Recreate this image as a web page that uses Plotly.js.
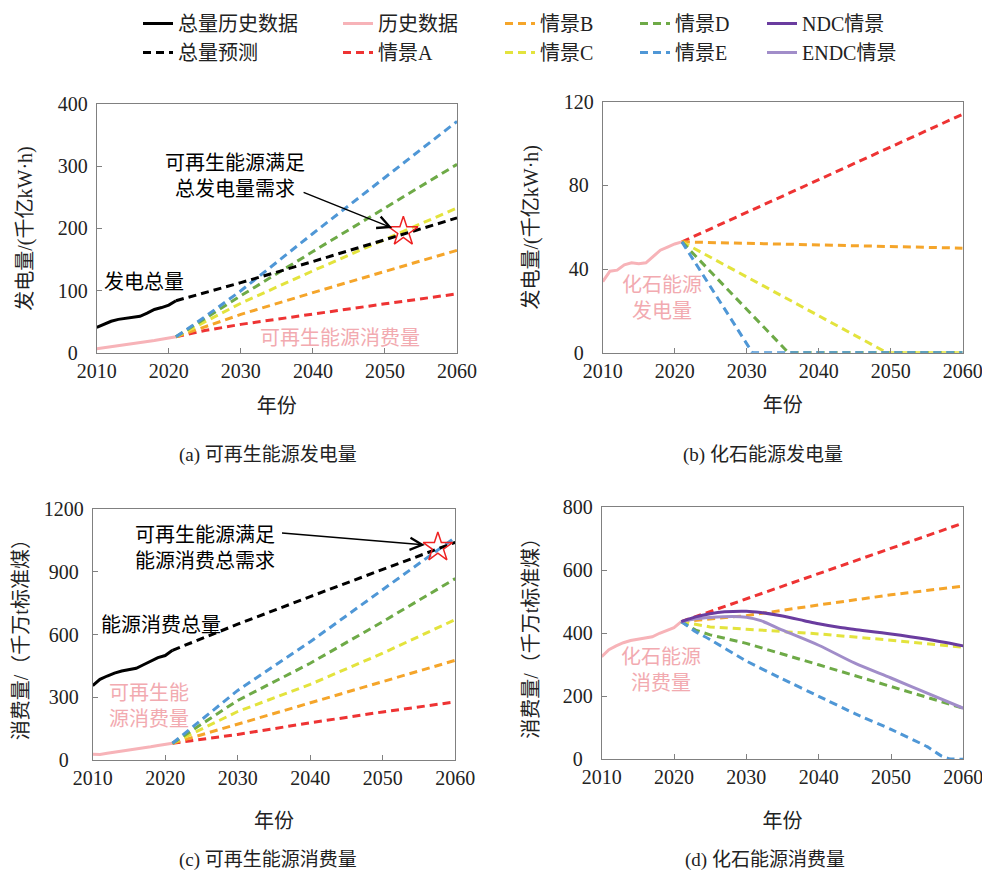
<!DOCTYPE html>
<html>
<head>
<meta charset="utf-8">
<script src="https://cdn.plot.ly/plotly-3.0.1.min.js"></script>
<style>html,body{margin:0;padding:0;background:#fff;}#chart{width:982px;height:879px;}</style>
</head>
<body>
<div id="chart"></div>
<script>
// ---------------- DATA ----------------
const histYears = [2010,2011,2012,2013,2014,2015,2016,2017,2018,2019,2020,2021];

// (a) 可再生能源发电量 (千亿kW·h)
const elecTotalHist = [41,46,51,54,56,57,59,64,70,73,77,84];
const elecTotalFcYears = [2021,2030,2040,2050,2060];
const elecTotalFc = [84,113,147,182,217];
const elecRenewHist = [7,8.5,10,11.5,13,14.5,16,18,20,22,24,26];
const elecRenewScenYears = [2021,2025,2030,2040,2050,2060];
const elecRenewA = [26,36,46,63,79,95];
const elecRenewB = [26,42,62,97,131,165];
const elecRenewC = [26,50,80,132,183,233];
const elecRenewD = [26,55,92,163,233,303];
const elecRenewE = [26,58,100,192,282,372];
const elecStar = {x:[2052.55], y:[195]};

// (b) 化石能源发电量
const elecFossilHist = [34,39,39.5,42,43,42.5,43,46,49,50.5,52,53];
const elecFossilAYears = [2021,2060];
const elecFossilA = [53,114];
const elecFossilBYears = [2021,2060];
const elecFossilB = [53,50];
const elecFossilCYears = [2021,2049.5,2060];
const elecFossilC = [53,0,0];
const elecFossilDYears = [2021,2035.8,2060];
const elecFossilD = [53,0,0];
const elecFossilEYears = [2021,2030.8,2060];
const elecFossilE = [53,0,0];

// (c) 可再生能源消费量 (千万t标准煤)
const energyTotalHist = [356,386,402,416,426,432,439,456,473,490,500,525];
const energyTotalFcYears = [2021,2030,2040,2050,2060];
const energyTotalFc = [525,650,782,912,1042];
const energyRenewHist = [28,26,32,37,42,46,50,56,63,69,74,80];
const energyRenewScenYears = [2021,2030,2040,2050,2060];
const energyRenewA = [80,122,178,230,278];
const energyRenewB = [80,172,271,375,477];
const energyRenewC = [80,232,362,511,672];
const energyRenewD = [80,285,463,662,868];
const energyRenewE = [80,333,566,814,1065];
const energyStar = {x:[2057.6], y:[1018]};

// (d) 化石能源消费量
const energyFossilHist = [326,348,360,370,377,381,383,389,400,410,418,437];
const fosAYears = [2021,2060];
const fosA = [437,750];
const fosBYears = [2021,2025,2030,2040,2050,2060];
const fosB = [437,445,456,490,522,550];
const fosCDYears = [2021,2023,2025,2030,2040,2050,2060];
const fosC = [437,428,420,413,398,378,356];
const fosD = [437,410,395,368,300,230,162];
const fosEYears = [2021,2023,2025,2030,2035,2040,2045,2050,2055,2057,2058,2060];
const fosE = [437,405,380,312,255,200,145,95,40,10,2,0];
const ndcYears = [2021,2023,2025,2027,2030,2032,2035,2038,2040,2043,2045,2050,2055,2060];
const ndc = [437,452,462,468,470,466,455,440,430,418,412,398,381,360];
const endcYears = [2021,2023,2025,2028,2030,2032,2035,2040,2045,2050,2055,2060];
const endc = [437,446,450,453,451,440,410,362,305,258,210,162];

const xTicks = [2010,2020,2030,2040,2050,2060];
const yTicksA = [0,100,200,300,400];
const yTicksB = [0,40,80,120];
const yTicksC = [0,300,600,900,1200];
const yTicksD = [0,200,400,600,800];

// ---------------- STYLE ----------------
const FONT = "'Liberation Serif', 'Noto Sans CJK SC', serif";
const TXT = '#222222';
const C = {
  black:'#000000', pink:'#f7b3b8', A:'#ee3333', B:'#f5a52a', Cc:'#e3e33d',
  D:'#6eaa47', E:'#4f97d6', NDC:'#6a3c9f', ENDC:'#a18dc9'
};
const PINKTXT = '#f2aab0';
const DASH = '8px,5px';
const LW = 3;

function line(x, y, color, dash, xa, ya, extra) {
  return Object.assign({
    type:'scatter', mode:'lines', x:x, y:y, xaxis:xa, yaxis:ya,
    line:{color:color, width:LW, dash:dash || 'solid'},
    showlegend:false, hoverinfo:'skip'
  }, extra || {});
}

const traces = [
  // (a)
  line(histYears, elecTotalHist, C.black, null, 'x','y', {name:'总量历史数据', showlegend:true, legend:'legend'}),
  line(histYears, elecRenewHist, C.pink, null, 'x','y', {name:'历史数据', showlegend:true, legend:'legend2'}),
  line(elecRenewScenYears, elecRenewA, C.A, DASH, 'x','y'),
  line(elecRenewScenYears, elecRenewB, C.B, DASH, 'x','y'),
  line(elecRenewScenYears, elecRenewC, C.Cc, DASH, 'x','y'),
  line(elecRenewScenYears, elecRenewD, C.D, DASH, 'x','y'),
  line(elecRenewScenYears, elecRenewE, C.E, DASH, 'x','y'),
  line(elecTotalFcYears, elecTotalFc, C.black, DASH, 'x','y', {name:'总量预测', showlegend:true, legend:'legend'}),
  {type:'scatter', mode:'markers', x:elecStar.x, y:elecStar.y, xaxis:'x', yaxis:'y', showlegend:false, hoverinfo:'skip',
   marker:{symbol:'star-open', size:22, color:'#ee2222', line:{width:1.5, color:'#ee2222'}}},
  // (b)
  line(histYears, elecFossilHist, C.pink, null, 'x2','y2'),
  line(elecFossilAYears, elecFossilA, C.A, DASH, 'x2','y2'),
  line(elecFossilBYears, elecFossilB, C.B, DASH, 'x2','y2'),
  line(elecFossilCYears, elecFossilC, C.Cc, DASH, 'x2','y2'),
  line(elecFossilDYears, elecFossilD, C.D, DASH, 'x2','y2'),
  line(elecFossilEYears, elecFossilE, C.E, DASH, 'x2','y2'),
  // (c)
  line(histYears, energyTotalHist, C.black, null, 'x3','y3'),
  line(histYears, energyRenewHist, C.pink, null, 'x3','y3'),
  line(energyRenewScenYears, energyRenewA, C.A, DASH, 'x3','y3'),
  line(energyRenewScenYears, energyRenewB, C.B, DASH, 'x3','y3'),
  line(energyRenewScenYears, energyRenewC, C.Cc, DASH, 'x3','y3'),
  line(energyRenewScenYears, energyRenewD, C.D, DASH, 'x3','y3'),
  line(energyRenewScenYears, energyRenewE, C.E, DASH, 'x3','y3'),
  line(energyTotalFcYears, energyTotalFc, C.black, DASH, 'x3','y3'),
  {type:'scatter', mode:'markers', x:energyStar.x, y:energyStar.y, xaxis:'x3', yaxis:'y3', showlegend:false, hoverinfo:'skip',
   marker:{symbol:'star-open', size:22, color:'#ee2222', line:{width:1.5, color:'#ee2222'}}},
  // (d)
  line(histYears, energyFossilHist, C.pink, null, 'x4','y4'),
  line(fosAYears, fosA, C.A, DASH, 'x4','y4', {name:'情景A', showlegend:true, legend:'legend2'}),
  line(fosBYears, fosB, C.B, DASH, 'x4','y4', {name:'情景B', showlegend:true, legend:'legend3'}),
  line(fosCDYears, fosC, C.Cc, DASH, 'x4','y4', {name:'情景C', showlegend:true, legend:'legend3'}),
  line(fosCDYears, fosD, C.D, DASH, 'x4','y4', {name:'情景D', showlegend:true, legend:'legend4'}),
  line(fosEYears, fosE, C.E, DASH, 'x4','y4', {name:'情景E', showlegend:true, legend:'legend4', line:{color:C.E, width:LW, dash:DASH, shape:'spline', smoothing:0.4}}),
  line(endcYears, endc, C.ENDC, null, 'x4','y4', {name:'ENDC情景', showlegend:true, legend:'legend5', legendrank:2, line:{color:C.ENDC, width:LW, shape:'spline', smoothing:0.8}}),
  line(ndcYears, ndc, C.NDC, null, 'x4','y4', {name:'NDC情景', showlegend:true, legend:'legend5', legendrank:1, line:{color:C.NDC, width:LW, shape:'spline', smoothing:0.8}})
];

// tick labels are centred in the source: pad shorter labels on the right
function centredTicks(vals) {
  const w = Math.max.apply(null, vals.map(v => String(v).length));
  return vals.map(v => {
    const d = w - String(v).length;
    return String(v) + '\u00a0'.repeat(d);
  });
}

function xax(domain, anchor, standoff) {
  return {
    domain:domain, anchor:anchor, range:[2010,2060], tickvals:xTicks,
    ticks:'inside', ticklen:5, tickcolor:'#808080', tickwidth:1,
    showline:true, mirror:true, linecolor:'#808080', linewidth:1,
    showgrid:false, zeroline:false, ticklabeloverflow:'allow',
    tickfont:{family:FONT, size:20, color:TXT},
    title:{text:'年份', font:{family:FONT, size:20, color:TXT}, standoff:standoff}
  };
}
function yax(domain, anchor, range, vals, title, standoff) {
  return {
    domain:domain, anchor:anchor, range:range, tickvals:vals, ticktext:centredTicks(vals),
    ticks:'inside', ticklen:5, tickcolor:'#808080', tickwidth:1,
    showline:true, mirror:true, linecolor:'#808080', linewidth:1,
    showgrid:false, zeroline:false, ticklabeloverflow:'allow',
    tickfont:{family:FONT, size:20, color:TXT}, ticklabelstandoff:4,
    title:{text:title, font:{family:FONT, size:20, color:TXT}, standoff:standoff}
  };
}

function legendAt(xpx, ypx) {
  return {x:xpx/982, y:1-ypx/879, xanchor:'left', yanchor:'top', orientation:'v',
    bgcolor:'rgba(0,0,0,0)', borderwidth:0, traceorder:'normal',
    font:{family:FONT, size:20, color:TXT}, itemwidth:30};
}

const ann = [];
function txt(text, x, y, xref, yref, color, size) {
  ann.push({text:text, x:x, y:y, xref:xref, yref:yref, xanchor:'center', yanchor:'middle', showarrow:false,
    font:{family:FONT, size:size||20, color:color||'#000'}, align:'center'});
}
function arrow(x0, y0, x1, y1, xref, yref) {
  ann.push({text:'', x:x1, y:y1, ax:x0, ay:y0, xref:xref, yref:yref, axref:xref, ayref:yref,
    showarrow:true, arrowhead:5, arrowsize:1.6, arrowwidth:1.5, arrowcolor:'#000', standoff:0});
}
// (a)
txt('可再生能源满足<br>总发电量需求', 2029.2, 284, 'x', 'y');
arrow(2038.5, 259, 2051.0, 201, 'x', 'y');
txt('发电总量', 2016.5, 114, 'x', 'y');
txt('可再生能源消费量', 2043.8, 24, 'x', 'y', PINKTXT);
// (b)
txt('化石能源<br>发电量', 2018.2, 26, 'x2', 'y2', PINKTXT);
// (c)
txt('可再生能源满足<br>能源消费总需求', 2025.5, 1017, 'x3', 'y3');
arrow(2035.9, 1087, 2055.8, 1029, 'x3', 'y3');
txt('能源消费总量', 2019.4, 646, 'x3', 'y3');
txt('可再生能<br>源消费量', 2017.8, 258, 'x3', 'y3', PINKTXT);
// (d)
txt('化石能源<br>消费量', 2018.2, 283, 'x4', 'y4', PINKTXT);
// captions
txt('(a) 可再生能源发电量', 268/982, 1-455/879, 'paper', 'paper', TXT, 19);
txt('(b) 化石能源发电量', 763/982, 1-455/879, 'paper', 'paper', TXT, 19);
txt('(c) 可再生能源消费量', 268/982, 1-860/879, 'paper', 'paper', TXT, 19);
txt('(d) 化石能源消费量', 765/982, 1-860/879, 'paper', 'paper', TXT, 19);

const layout = {
  width:982, height:879, margin:{l:0, r:0, t:0, b:0},
  paper_bgcolor:'#fff', plot_bgcolor:'#fff',
  font:{family:FONT, size:20, color:TXT},
  xaxis: xax([0.0985, 0.4654], 'y', 17),
  yaxis: yax([0.5984, 0.8817], 'x', [0,400], yTicksA, '发电量/(千亿kW·h)', 19),
  xaxis2: xax([0.6138, 0.9803], 'y2', 17),
  yaxis2: yax([0.5987, 0.8843], 'x2', [0,120], yTicksB, '发电量/(千亿kW·h)', 19),
  xaxis3: xax([0.0944, 0.4636], 'y3', 26),
  yaxis3: yax([0.1354, 0.4206], 'x3', [0,1200], yTicksC, '消费量/（千万t标准煤）', 9),
  xaxis4: xax([0.6127, 0.9810], 'y4', 26),
  yaxis4: yax([0.1362, 0.4229], 'x4', [0,800], yTicksD, '消费量/（千万t标准煤）', 18),
  legend: legendAt(138, 4),
  legend2: legendAt(338, 4),
  legend3: legendAt(500, 4),
  legend4: legendAt(635, 4),
  legend5: legendAt(762, 4),
  annotations: ann
};

Plotly.newPlot('chart', traces, layout, {displayModeBar:false, staticPlot:true});
</script>
</body>
</html>
